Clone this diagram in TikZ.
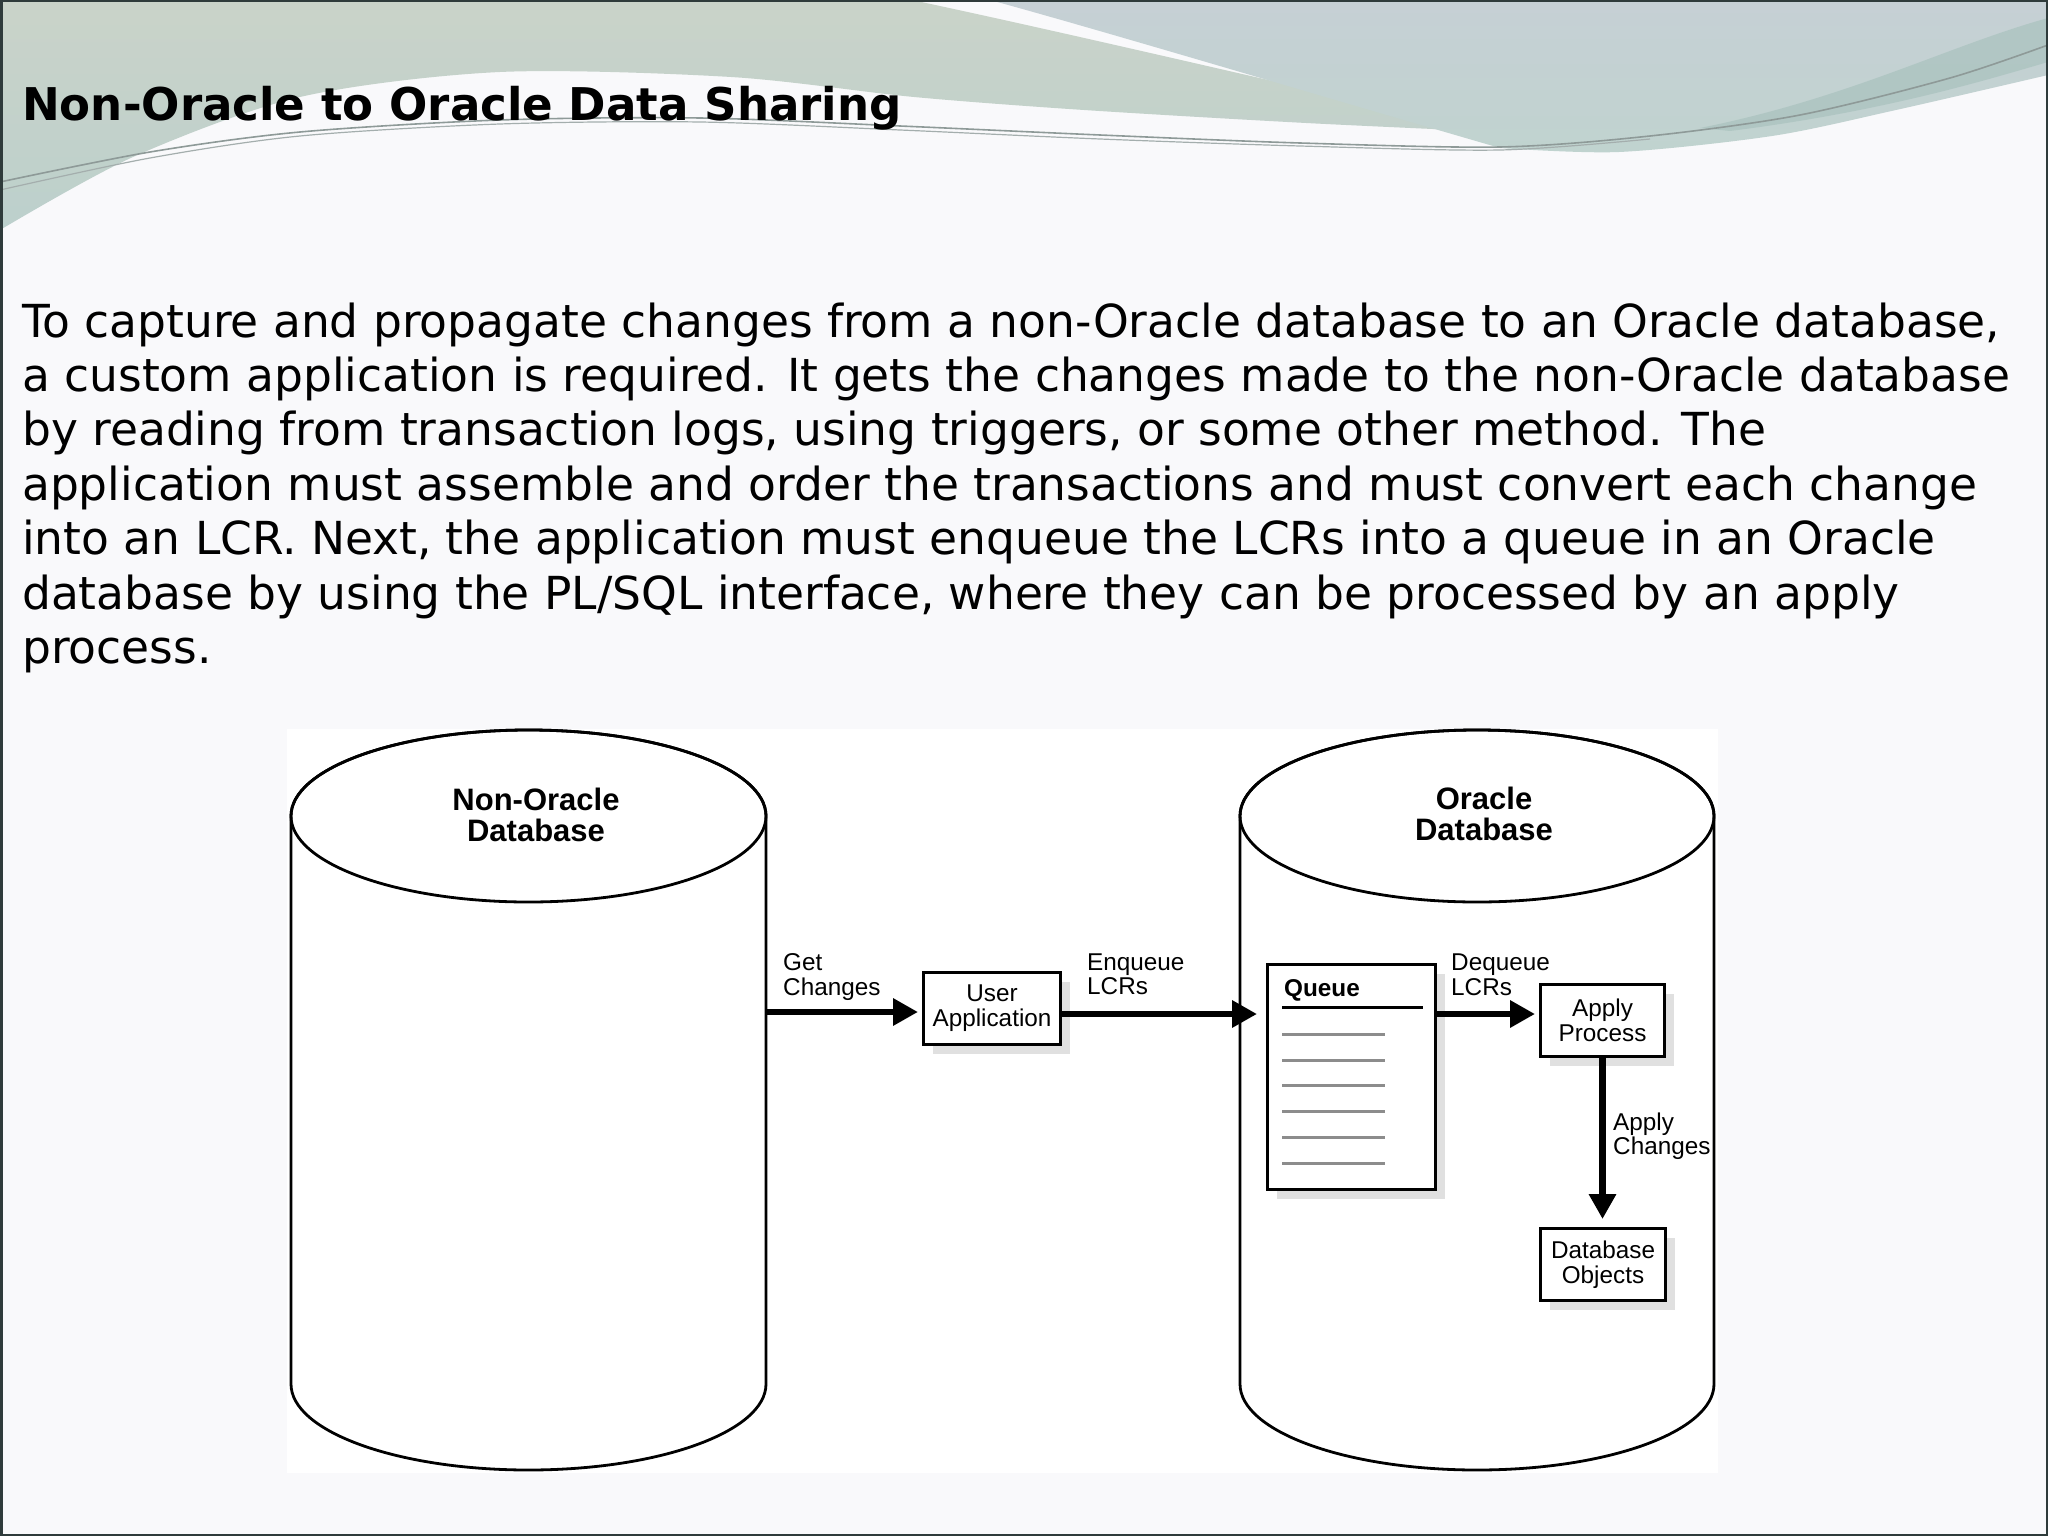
\documentclass[tikz,border=0pt]{standalone}
\usepackage{fontspec}
\setmainfont{DejaVu Sans}
\newfontfamily\diafont{Liberation Sans}
\usetikzlibrary{arrows.meta,shadows}
\definecolor{slidebg}{HTML}{F9F9FB}
\definecolor{gtop}{HTML}{CAD3C9}
\definecolor{gbot}{HTML}{BCD0CC}
\definecolor{btop}{HTML}{C6D0D5}
\definecolor{bbot}{HTML}{C0D3CF}
\definecolor{tealacc}{HTML}{A9C2BE}
\definecolor{swoosh}{HTML}{8E9A98}
\definecolor{framec}{HTML}{2F3B3B}
\definecolor{qgray}{HTML}{8C8C8C}
\tikzset{
  bodytxt/.style={font=\fontsize{45.5}{54}\selectfont, anchor=base west, inner sep=0pt},
  titletxt/.style={font=\bfseries\fontsize{45.1}{50}\selectfont, anchor=base west, inner sep=0pt},
  lab/.style={font=\diafont\fontsize{24.3}{25}\selectfont, anchor=base west, inner sep=0pt},
  dblab/.style={font=\diafont\bfseries\fontsize{31}{31}\selectfont, anchor=base, inner sep=0pt},
  procbox/.style={draw, line width=3pt, fill=white, font=\diafont\fontsize{24.3}{25}\selectfont,
    align=center, inner sep=0pt,
    drop shadow={shadow xshift=9pt, shadow yshift=-9pt, fill=black!12, opacity=1}},
  flow/.style={line width=6.5pt, -{Triangle[length=25pt,width=26pt]}},
  cyl/.style={line width=2.8pt, fill=white},
}
\begin{document}
\begin{tikzpicture}[x=1pt,y=-1pt]
\useasboundingbox (0,0) rectangle (2048,1536);
% slide background
\fill[slidebg] (0,0) rectangle (2048,1536);
% top decorative band
\shade[top color=gtop, bottom color=gbot]
  (0,0) -- (912,0) .. controls (1100,40) and (1350,100) .. (1500,132)
  -- plot[smooth] coordinates {(1500,132) (1306,123) (1084,110) (914,97) (731,77) (500,72) (300,97) (133,157) (0,230)}
  -- cycle;
\shade[top color=btop, bottom color=bbot]
  (990,0) -- (2048,0) -- (2048,75)
  -- plot[smooth] coordinates {(2048,75) (1896,110) (1772,136) (1619,152) (1500,148)}
  .. controls (1300,90) and (1100,30) .. (990,0) -- cycle;
\fill[tealacc, opacity=0.7]
  (2048,18) .. controls (1950,45) and (1850,98) .. (1700,128)
  -- (1730,131) .. controls (1880,112) and (1980,82) .. (2048,62) -- cycle;
\draw[swoosh, line width=1.6pt] plot[smooth] coordinates {(0,182) (150,152) (300,132) (500,120) (700,118) (900,126) (1100,135) (1300,143) (1500,147) (1650,136) (1800,115) (1950,78) (2048,45)};
\draw[swoosh!80, line width=1.2pt] plot[smooth] coordinates {(0,190) (150,158) (300,136) (500,124) (700,122) (900,130) (1100,139) (1300,146) (1500,150) (1650,139)};
% frame
\draw[framec, line width=2.5pt] (1.25,1.25) rectangle (2046.75,1534.75);
% title and text
\node[titletxt] (title) at (22,120.5) {Non-Oracle to Oracle Data Sharing};
\node[bodytxt] (l1) at (22,337) {To capture and propagate changes from a non-Oracle database to an Oracle database,};
\node[bodytxt] (l2) at (22,391.4) {a custom application is required. It gets the changes made to the non-Oracle database};
\node[bodytxt] (l3) at (22,445.8) {by reading from transaction logs, using triggers, or some other method. The};
\node[bodytxt] (l4) at (22,500.2) {application must assemble and order the transactions and must convert each change};
\node[bodytxt] (l5) at (22,554.6) {into an LCR. Next, the application must enqueue the LCRs into a queue in an Oracle};
\node[bodytxt] (l6) at (22,609) {database by using the PL/SQL interface, where they can be processed by an apply};
\node[bodytxt] (l7) at (22,663.4) {process.};
% diagram area
\fill[white] (287,729) rectangle (1718,1473);
% non-Oracle cylinder
\draw[cyl] (291,816) -- (291,1384) arc[start angle=180,end angle=360,x radius=237.5pt,y radius=86pt]
  -- (766,816) arc[start angle=0,end angle=180,x radius=237.5pt,y radius=86pt] -- cycle;
\draw[line width=2.8pt] (528.5,816) ellipse[x radius=237.5pt,y radius=86pt];
\node[inner sep=0pt, minimum width=475pt, minimum height=740pt] (ndb) at (528.5,1100) {};
\node[dblab] (ndbt1) at (536,810) {Non-Oracle};
\node[dblab] (ndbt2) at (536,841) {Database};
% Oracle cylinder
\draw[cyl] (1240,816) -- (1240,1384) arc[start angle=180,end angle=360,x radius=237pt,y radius=86pt]
  -- (1714,816) arc[start angle=0,end angle=180,x radius=237pt,y radius=86pt] -- cycle;
\draw[line width=2.8pt] (1477,816) ellipse[x radius=237pt,y radius=86pt];
\node[inner sep=0pt, minimum width=474pt, minimum height=740pt] (odb) at (1477,1100) {};
\node[dblab] (odbt1) at (1484,809) {Oracle};
\node[dblab] (odbt2) at (1484,840) {Database};
% boxes
\node[procbox, minimum width=137pt, minimum height=72pt] (ua) at (992,1008.5) {User\\Application};
\node[procbox, minimum width=168pt, minimum height=225pt] (q) at (1351.5,1077) {};
\node[procbox, minimum width=124pt, minimum height=72pt] (ap) at (1602.5,1020.5) {Apply\\Process};
\node[procbox, minimum width=125pt, minimum height=72pt] (dbo) at (1603,1264.5) {Database\\Objects};
% queue contents
\node[lab, font=\diafont\bfseries\fontsize{24.3}{25}\selectfont] (qt) at (1284,996) {Queue};
\draw[line width=3pt] (1282,1007) -- (1423,1007);
\foreach \yy in {1034,1060,1085,1111,1137,1163}
  \draw[qgray, line width=3pt] (1282,\yy) -- (1385,\yy);
% connectors
\coordinate (gcend) at ([yshift=-3.5pt]ua.west);
\coordinate (eqstart) at ([yshift=-5.5pt]ua.east);
\coordinate (dqend) at ([yshift=6.5pt]ap.west);
\draw[flow, shorten >=4pt] (gcend -| ndb.east) -- (gcend);
\draw[flow, shorten >=9pt] (eqstart) -- (eqstart -| q.west);
\draw[flow, shorten >=4pt] (dqend -| q.east) -- (dqend);
\draw[flow, shorten >=8pt] (ap.south) -- (ap.south |- dbo.north);
% connector labels
\node[lab] (gc1) at (783,970) {Get};
\node[lab] (gc2) at (783,995) {Changes};
\node[lab] (eq1) at (1087,970) {Enqueue};
\node[lab] (eq2) at (1087,994) {LCRs};
\node[lab] (dq1) at (1451,970) {Dequeue};
\node[lab] (dq2) at (1451,995) {LCRs};
\node[lab] (ac1) at (1613,1130) {Apply};
\node[lab] (ac2) at (1613,1154) {Changes};
\end{tikzpicture}
\end{document}
